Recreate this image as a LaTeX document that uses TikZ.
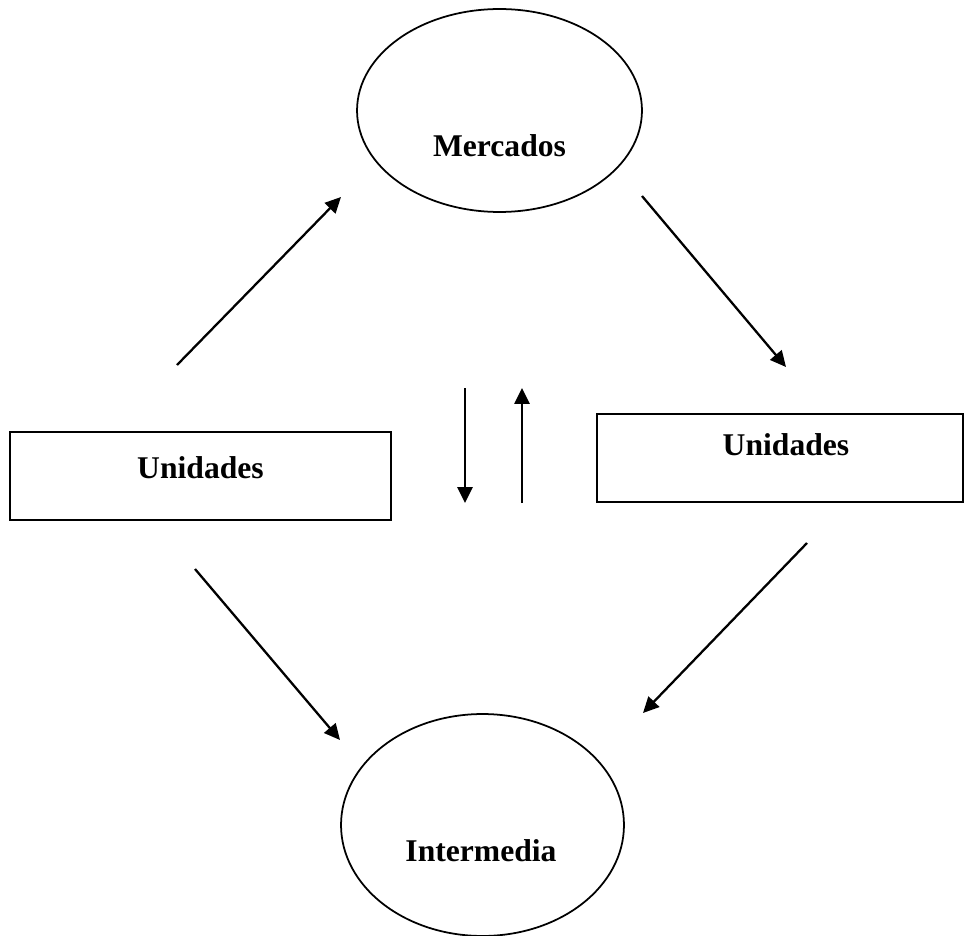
\documentclass[tikz,border=0pt]{standalone}
\usepackage{fontspec}
\setmainfont{Liberation Serif}
\usetikzlibrary{shapes.geometric,arrows.meta,positioning}

\begin{document}
\begin{tikzpicture}[
    x=0.02cm, y=-0.02cm,
    font=\bfseries\fontsize{18}{21}\selectfont,
    oval/.style={draw, ellipse, line width=1pt, inner sep=0pt},
    unitbox/.style={draw, rectangle, line width=1.2pt, inner sep=0pt, minimum height=1.76cm},
    flow/.style={-{Triangle[length=9pt,width=8.5pt]}, line width=1.3pt}
]
    \useasboundingbox (0,0) rectangle (964,936);

    % Mercados (arriba)
    \node[oval, minimum width=5.7cm, minimum height=4.06cm,
          label={[yshift=-0.71cm]center:Mercados}] (merc) at (499.5,110.5) {};

    % Intermedia (abajo)
    \node[oval, minimum width=5.66cm, minimum height=4.44cm,
          label={[yshift=-0.51cm, xshift=-0.03cm]center:Intermedia}] (inter) at (482.5,825) {};

    % Unidades izquierda y derecha
    \node[unitbox, minimum width=7.62cm,
          label={[yshift=0.16cm]center:Unidades}] (unidIzq) at (200.5,476) {};
    \node[unitbox, minimum width=7.32cm,
          label={[yshift=0.26cm, xshift=0.12cm]center:Unidades}] (unidDer) at (780,458) {};

    % Extremos de las flechas
    \coordinate (f1a) at (177,365);  \coordinate (f1b) at (341,197);
    \coordinate (f2a) at (642,196);  \coordinate (f2b) at (786,367);
    \coordinate (f3a) at (195,569);  \coordinate (f3b) at (340,740);
    \coordinate (f4a) at (807,543);  \coordinate (f4b) at (643,713);
    \coordinate (f5a) at (465,388);  \coordinate (f5b) at (465,503);
    \coordinate (f6a) at (522,503);  \coordinate (f6b) at (522,388);

    % Flujos
    \draw[flow] (f1a) -- (f1b);
    \draw[flow] (f2a) -- (f2b);
    \draw[flow] (f3a) -- (f3b);
    \draw[flow] (f4a) -- (f4b);
    \draw[flow] (f5a) -- (f5b);
    \draw[flow] (f6a) -- (f6b);

\end{tikzpicture}
\end{document}
